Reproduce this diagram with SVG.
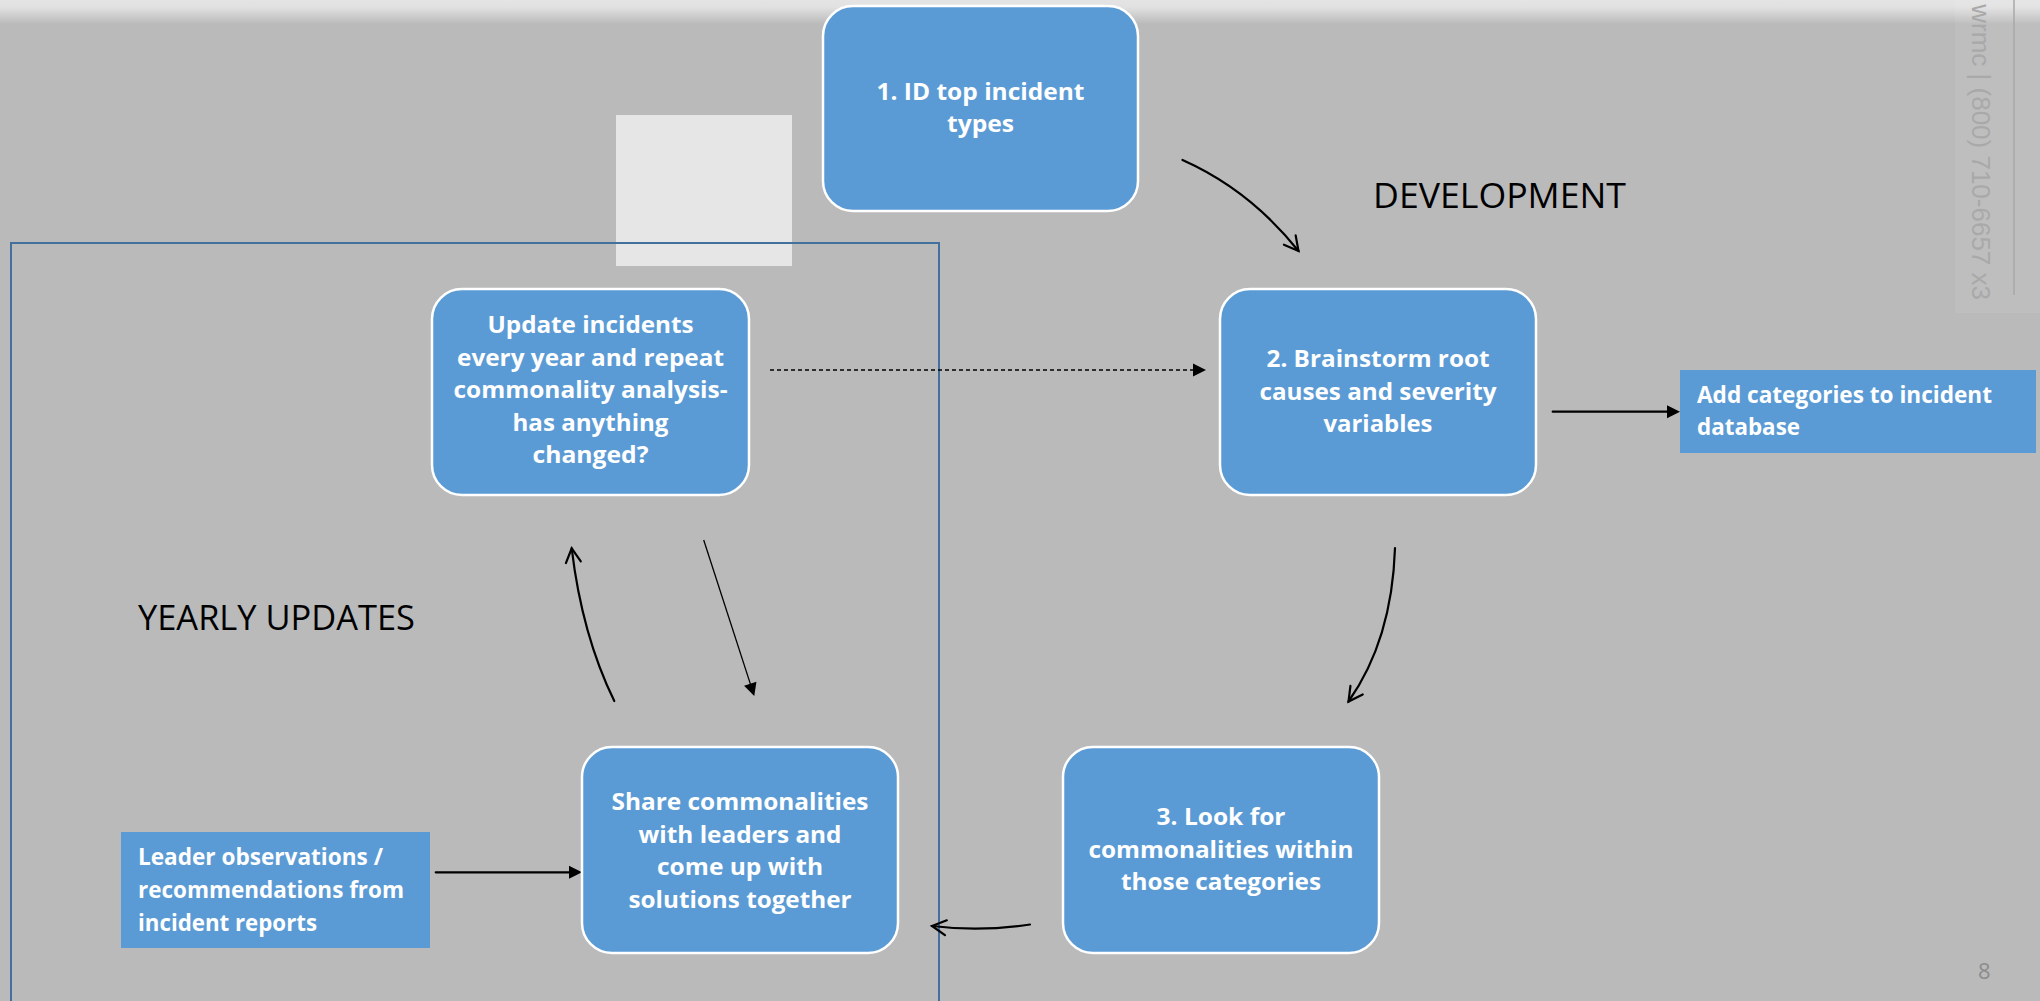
<svg xmlns="http://www.w3.org/2000/svg" width="2040" height="1001" viewBox="0 0 2040 1001">
<defs>
<style>
.bg{fill:#bababa}
.node{fill:#5b9bd5;stroke:#ffffff;stroke-width:2.5}
.rectnode{fill:#5b9bd5}
.nt{font-family:"Open Sans","Liberation Sans",sans-serif;font-weight:700;font-size:24px;fill:#ffffff;text-anchor:middle}
.lt{font-family:"Open Sans","Liberation Sans",sans-serif;font-weight:700;font-size:24px;fill:#ffffff}
.label{font-family:"Open Sans","Liberation Sans",sans-serif;font-size:34px;fill:#000000}
.conn{fill:none;stroke:#000000;stroke-width:2.2;stroke-linecap:round}
.thin{fill:none;stroke:#000000;stroke-width:1.3}
.dash{fill:none;stroke:#000000;stroke-width:1.3;stroke-dasharray:4 3}
.wm{font-family:"Liberation Sans",Arial,sans-serif;font-size:26px;fill:#a9a9a9}
</style>
<linearGradient id="topfade" x1="0" y1="0" x2="0" y2="1">
<stop offset="0" stop-color="#e4e4e4"/>
<stop offset="0.3" stop-color="#e1e1e1"/>
<stop offset="1" stop-color="#bababa"/>
</linearGradient>
<marker id="open" markerUnits="userSpaceOnUse" orient="auto" overflow="visible" markerWidth="20" markerHeight="20" refX="0" refY="0">
<path d="M-14,-7.5 L0,0 L-14,7.5" fill="none" stroke="#000" stroke-width="2.2" stroke-linecap="round" stroke-linejoin="miter"/>
</marker>
<marker id="solid" markerUnits="userSpaceOnUse" orient="auto" overflow="visible" markerWidth="20" markerHeight="20" refX="5" refY="0">
<path d="M0,-6.5 L13,0 L0,6.5 Z" fill="#000"/>
</marker>
</defs>

<rect class="bg" x="0" y="0" width="2040" height="1001"/>
<rect x="0" y="0" width="2040" height="24" fill="url(#topfade)"/>

<g id="watermark">
<rect x="1955" y="0" width="85" height="313" fill="#ffffff" fill-opacity="0.07"/>
<line x1="2014" y1="0" x2="2014" y2="295" stroke="#a9a9a9" stroke-width="1.5"/>
<text class="wm" transform="translate(1972,300) rotate(90)" text-anchor="end">wrmc | (800) 710-6657 x3</text>
</g>

<rect id="placeholder" x="616" y="115" width="176" height="151" fill="#e6e6e6"/>
<rect id="yearly-frame" x="11" y="243" width="928" height="780" fill="none" stroke="#41719c" stroke-width="2"/>

<text id="label-development" class="label" x="1373" y="208" textLength="253" lengthAdjust="spacingAndGlyphs">DEVELOPMENT</text>
<text id="label-yearly" class="label" x="138" y="630" textLength="277" lengthAdjust="spacingAndGlyphs">YEARLY UPDATES</text>
<text id="page-number" x="1978" y="979" font-family="Open Sans, Liberation Sans, sans-serif" font-size="22" fill="#8c8c8c">8</text>

<g id="connectors">
<path class="conn" d="M1182.5,160 Q1250,190 1298.5,251" marker-end="url(#open)"/>
<path class="conn" d="M1395,548 Q1392,640 1348.5,701.5" marker-end="url(#open)"/>
<path class="conn" d="M1030,924.5 Q980,932 932,926" marker-end="url(#open)"/>
<path class="conn" d="M614.3,701 Q582,635 571.7,548.3" marker-end="url(#open)"/>
<path class="thin" d="M703.7,540 L751.8,688.4" marker-end="url(#solid)"/>
<path class="dash" d="M770,370 L1198,370" marker-end="url(#solid)"/>
<path class="conn" d="M1552.7,411.7 L1672,411.7" marker-end="url(#solid)"/>
<path class="conn" d="M435.7,872.3 L574,872.3" marker-end="url(#solid)"/>
</g>

<g id="node-1">
<rect class="node" x="823" y="6" width="315" height="205" rx="30"/>
<text class="nt" x="980.5" y="100" textLength="208" lengthAdjust="spacingAndGlyphs">1. ID top incident</text>
<text class="nt" x="980.5" y="132" textLength="67" lengthAdjust="spacingAndGlyphs">types</text>
</g>

<g id="node-2">
<rect class="node" x="1220" y="289" width="316" height="206" rx="30"/>
<text class="nt" x="1378" y="367" textLength="223" lengthAdjust="spacingAndGlyphs">2. Brainstorm root</text>
<text class="nt" x="1378" y="400" textLength="237" lengthAdjust="spacingAndGlyphs">causes and severity</text>
<text class="nt" x="1378" y="432" textLength="109" lengthAdjust="spacingAndGlyphs">variables</text>
</g>

<g id="node-add-categories">
<rect class="rectnode" x="1680" y="370" width="356" height="83"/>
<text class="lt" x="1697" y="403" textLength="295" lengthAdjust="spacingAndGlyphs">Add categories to incident</text>
<text class="lt" x="1697" y="435" textLength="103" lengthAdjust="spacingAndGlyphs">database</text>
</g>

<g id="node-3">
<rect class="node" x="1063" y="747" width="316" height="206" rx="30"/>
<text class="nt" x="1221" y="825" textLength="129" lengthAdjust="spacingAndGlyphs">3. Look for</text>
<text class="nt" x="1221" y="857.5" textLength="265" lengthAdjust="spacingAndGlyphs">commonalities within</text>
<text class="nt" x="1221" y="890" textLength="200" lengthAdjust="spacingAndGlyphs">those categories</text>
</g>

<g id="node-share">
<rect class="node" x="582" y="747" width="316" height="206" rx="30"/>
<text class="nt" x="740" y="810" textLength="257" lengthAdjust="spacingAndGlyphs">Share commonalities</text>
<text class="nt" x="740" y="842.5" textLength="203" lengthAdjust="spacingAndGlyphs">with leaders and</text>
<text class="nt" x="740" y="875" textLength="166" lengthAdjust="spacingAndGlyphs">come up with</text>
<text class="nt" x="740" y="907.5" textLength="223" lengthAdjust="spacingAndGlyphs">solutions together</text>
</g>

<g id="node-update">
<rect class="node" x="432" y="289" width="317" height="206" rx="30"/>
<text class="nt" x="590.5" y="333" textLength="206" lengthAdjust="spacingAndGlyphs">Update incidents</text>
<text class="nt" x="590.5" y="365.5" textLength="267" lengthAdjust="spacingAndGlyphs">every year and repeat</text>
<text class="nt" x="590.5" y="398" textLength="274" lengthAdjust="spacingAndGlyphs">commonality analysis-</text>
<text class="nt" x="590.5" y="430.5" textLength="156" lengthAdjust="spacingAndGlyphs">has anything</text>
<text class="nt" x="590.5" y="463" textLength="116" lengthAdjust="spacingAndGlyphs">changed?</text>
</g>

<g id="node-leader">
<rect class="rectnode" x="121" y="832" width="309" height="116"/>
<text class="lt" x="138" y="865" textLength="245" lengthAdjust="spacingAndGlyphs">Leader observations /</text>
<text class="lt" x="138" y="898" textLength="266" lengthAdjust="spacingAndGlyphs">recommendations from</text>
<text class="lt" x="138" y="931" textLength="179" lengthAdjust="spacingAndGlyphs">incident reports</text>
</g>
</svg>
